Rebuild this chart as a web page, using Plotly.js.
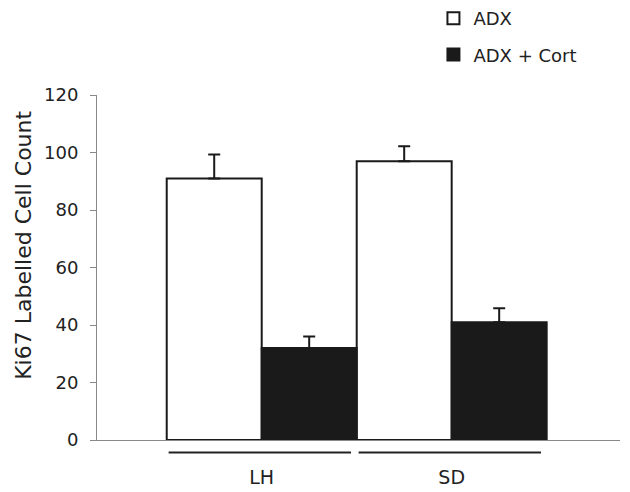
<!DOCTYPE html>
<html>
<head>
<meta charset="utf-8">
<script src="https://cdn.plot.ly/plotly-3.0.1.min.js"></script>
<style>html,body{margin:0;padding:0;background:#fff;}#chart{width:630px;height:492px;}</style>
</head>
<body>
<div id="chart"></div>
<script>
const categories = ['LH', 'SD'];
const seriesNames = ['ADX', 'ADX + Cort'];
const adxValues = [91, 97];
const adxErrors = [8.3, 5.2];
const cortValues = [32, 41];
const cortErrors = [4, 4.8];
const yTickVals = [0, 20, 40, 60, 80, 100, 120];
const yTitle = 'Ki67 Labelled Cell Count';

const traces = [
  {
    type: 'bar', name: seriesNames[0], x: categories, y: adxValues,
    marker: {color: '#ffffff', line: {color: '#1a1a1a', width: 2}},
    error_y: {type: 'data', symmetric: false, array: adxErrors, arrayminus: adxErrors.map(() => 0),
              color: '#1a1a1a', thickness: 2, width: 6},
    legend: 'legend'
  },
  {
    type: 'bar', name: seriesNames[1], x: categories, y: cortValues,
    marker: {color: '#1a1a1a', line: {color: '#1a1a1a', width: 2}},
    error_y: {type: 'data', symmetric: false, array: cortErrors, arrayminus: cortErrors.map(() => 0),
              color: '#1a1a1a', thickness: 2, width: 6},
    legend: 'legend2'
  }
];

const shapes = categories.map((c, i) => ({
  type: 'line', xref: 'x', yref: 'paper', x0: i - 0.49, x1: i + 0.47, y0: -0.036, y1: -0.036,
  line: {color: '#222', width: 2}
}));

const legendFont = {family: 'DejaVu Sans, Verdana, sans-serif', size: 18, color: '#222'};

const layout = {
  width: 630, height: 492,
  margin: {l: 97, r: 10, t: 95, b: 52, autoexpand: false},
  paper_bgcolor: '#fff', plot_bgcolor: '#fff',
  font: {family: 'DejaVu Sans, Verdana, sans-serif', color: '#222'},
  barmode: 'group', bargap: 0, bargroupgap: 0,
  showlegend: true,
  legend: {xref: 'container', yref: 'container', x: 0.688, y: 1.0, xanchor: 'left', yanchor: 'top',
           font: legendFont, bgcolor: 'rgba(0,0,0,0)'},
  legend2: {xref: 'container', yref: 'container', x: 0.688, y: 0.926, xanchor: 'left', yanchor: 'top',
           font: legendFont, bgcolor: 'rgba(0,0,0,0)'},
  xaxis: {
    type: 'category', range: [-0.867, 1.886], showline: true, linecolor: '#888', linewidth: 1,
    ticks: '', showgrid: false, zeroline: false, ticklabelstandoff: 20,
    tickfont: {size: 19, color: '#222'}, fixedrange: true
  },
  yaxis: {
    range: [0, 120], tickvals: yTickVals, showline: true, linecolor: '#888', linewidth: 1,
    ticks: 'outside', ticklen: 6, tickcolor: '#888', showgrid: false, zeroline: false,
    ticklabelstandoff: 8,
    tickfont: {size: 18, color: '#222'}
  },
  annotations: [{
    text: yTitle, xref: 'paper', yref: 'paper', x: -0.142, y: 0.565, xanchor: 'center', yanchor: 'middle',
    textangle: -90, showarrow: false, font: {size: 22, color: '#222'}
  }],
  shapes: shapes
};

Plotly.newPlot('chart', traces, layout, {displayModeBar: false, staticPlot: true});
</script>
</body>
</html>
